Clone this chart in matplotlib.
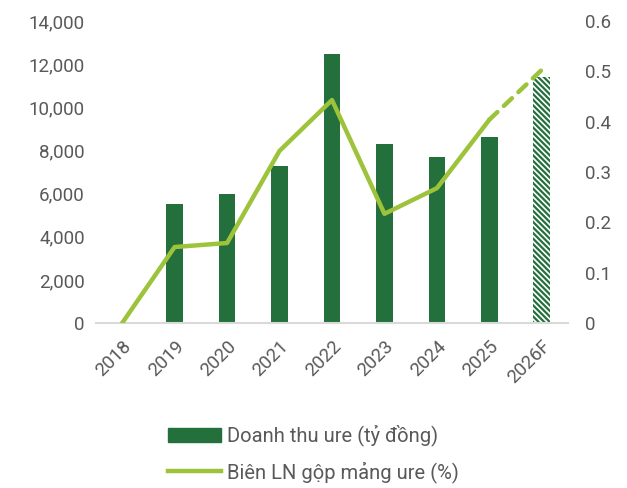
import matplotlib
matplotlib.use("Agg")
import matplotlib.pyplot as plt
from matplotlib.ticker import FuncFormatter
from matplotlib.lines import Line2D
from matplotlib.patches import Patch

years = ["2018", "2019", "2020", "2021", "2022", "2023", "2024", "2025", "2026F"]
revenue = [0, 5500, 6000, 7300, 12450, 8300, 7700, 8620, 11400]
margin = [0.0, 0.151, 0.159, 0.342, 0.443, 0.217, 0.268, 0.404, 0.503]

plt.rcParams['font.family'] = ['Roboto', 'DejaVu Sans']
plt.rcParams['hatch.linewidth'] = 1.6
txt = '#595959'
bar_c = '#23703C'
line_c = '#9DC33B'

fig = plt.figure(figsize=(6.27, 4.88), dpi=100)
ax = fig.add_axes([0.153, 0.338, 0.753, 0.619])
x = list(range(len(years)))
n_act = len(years) - 1
ax.bar(x[:n_act], revenue[:n_act], width=0.32, color=bar_c, zorder=2)
ax.bar(x[n_act:], revenue[n_act:], width=0.32, color='white', edgecolor=bar_c,
       hatch='\\\\\\\\\\\\', linewidth=0, zorder=2)
ax.set_ylim(0, 14000)
ax.set_yticks(range(0, 14001, 2000))
ax.yaxis.set_major_formatter(FuncFormatter(lambda v, p: f"{int(v):,}"))
ax.set_xlim(-0.5, len(years) - 0.5)
ax.set_xticks(x)
ax.set_xticklabels(years, rotation=45, ha='right', rotation_mode='anchor')
for s in ['top', 'right', 'left']:
    ax.spines[s].set_visible(False)
ax.spines['bottom'].set_color('#D9D9D9')
ax.spines['bottom'].set_linewidth(1.5)
ax.tick_params(axis='both', length=0, labelsize=13.5, colors=txt, pad=8)
ax.tick_params(axis='x', pad=10)

ax2 = ax.twinx()
ax2.plot(x[:n_act], margin[:n_act], color=line_c, lw=3.2, solid_capstyle='round', zorder=3)
ax2.plot(x[n_act - 1:], margin[n_act - 1:], color=line_c, lw=3.2, ls=(0, (2.5, 2)),
         dash_capstyle='round', zorder=3)
ax2.set_ylim(0, 0.6)
ax2.set_yticks([0, 0.1, 0.2, 0.3, 0.4, 0.5, 0.6])
ax2.yaxis.set_major_formatter(FuncFormatter(lambda v, p: "0" if v == 0 else f"{v:.1f}"))
for s in ax2.spines.values():
    s.set_visible(False)
ax2.tick_params(axis='y', length=0, labelsize=13.5, colors=txt, pad=12)

handles = [Patch(color=bar_c, label='Doanh thu ure (tỷ đồng)'),
           Line2D([0], [0], color=line_c, lw=3.2, label='Biên LN gộp mảng ure (%)')]
fig.legend(handles=handles, loc='center', bbox_to_anchor=(0.5, 0.07), ncol=1, frameon=False,
           fontsize=14.5, labelcolor=txt, handlelength=2.6, labelspacing=0.75, handletextpad=0.3)
fig.savefig("out.png", dpi=100)
